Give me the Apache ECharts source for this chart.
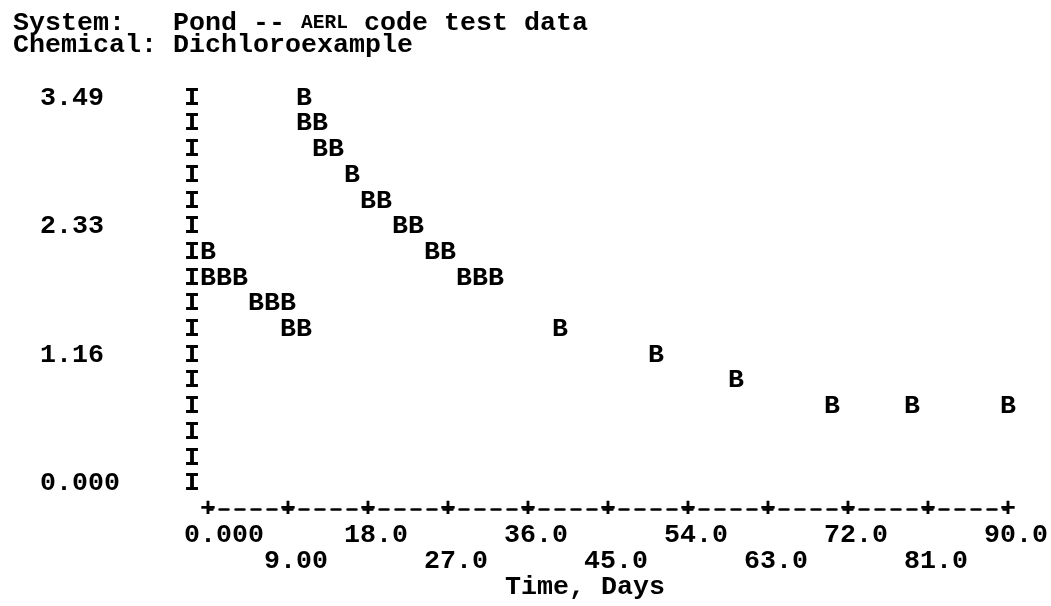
<!DOCTYPE html>
<html>
<head>
<meta charset="utf-8">
<script src="https://cdn.jsdelivr.net/npm/echarts@6/dist/echarts.min.js"></script>
<style>
  html, body { margin: 0; padding: 0; background: #fff; }
  #main { width: 1051px; height: 606px; }
</style>
</head>
<body>
<div id="main"></div>
<script>
// values (one B per printed cell)
var days = [0, 0, 1.8, 3.6, 5.4, 7.2, 9.0, 9.0, 10.8, 10.8, 10.8, 12.6, 12.6, 14.4, 16.2, 18.0, 19.8,
            21.6, 23.4, 25.2, 27.0, 28.8, 30.6, 32.4, 39.6, 50.4, 59.4, 70.2, 79.2, 90];
var conc = [2.094, 1.861, 1.861, 1.861, 1.629, 1.629, 1.629, 1.396, 1.396, 3.49, 3.257, 3.257, 3.025, 3.025,
            2.792, 2.559, 2.559, 2.327, 2.327, 2.094, 2.094, 1.861, 1.861, 1.861, 1.396, 1.163, 0.931,
            0.698, 0.698, 0.698];

var xTickValues = [0, 9, 18, 27, 36, 45, 54, 63, 72, 81, 90];
var xTickLabels = ['0.000', '9.00', '18.0', '27.0', '36.0', '45.0', '54.0', '63.0', '72.0', '81.0', '90.0'];
// one entry per printed row, bottom row first
var yTickLabels = ['0.000', '', '', '', '', '1.16', '', '', '', '', '2.33', '', '', '', '', '3.49'];
var yMax = 3.49;

var FONT = 'Liberation Mono';
var FS = 26.67;
var ROW = 26;

var evenTicks = xTickValues.filter(function (v, i) { return i % 2 === 0; });
var oddTicks = xTickValues.filter(function (v, i) { return i % 2 === 1; });

// number starts one column left of the tick column
function numLabel(v) {
    var s = xTickLabels[xTickValues.indexOf(v)];
    return new Array(s.length - 2).join(' ') + s;
}

var txt = { fontFamily: FONT, fontWeight: 'bold', fontSize: FS, color: '#000' };

function labelAxis(values, margin) {
    return {
        type: 'value',
        position: 'bottom',
        min: 0,
        max: 90,
        offset: ROW,
        axisLine: { show: false, onZero: false },
        axisTick: { show: false },
        splitLine: { show: false },
        axisLabel: Object.assign({
            customValues: values,
            margin: margin,
            verticalAlign: 'middle',
            lineHeight: 20,
            formatter: numLabel
        }, txt)
    };
}

var chart = echarts.init(document.getElementById('main'));
var option = {
    backgroundColor: '#fff',
    animation: false,
    title: {
        text: 'System:   Pond -- {sc|AERL} code test data\nChemical: Dichloroexample',
        left: 8,
        top: 7,
        textStyle: Object.assign({
            lineHeight: 22,
            rich: {
                sc: { fontFamily: FONT, fontWeight: 'bold', fontSize: 19.6, color: '#000', lineHeight: 22 }
            }
        }, txt)
    },
    grid: { left: 208, right: 43, top: 98, bottom: 606 - 98 - 15 * ROW },
    xAxis: [
        {
            type: 'value',
            position: 'bottom',
            min: 0,
            max: 90,
            offset: ROW,
            axisLine: {
                show: true,
                onZero: false,
                lineStyle: { color: '#000', width: 2.5, type: [9, 7], dashOffset: 4.5 }
            },
            axisTick: { show: false },
            splitLine: { show: false },
            axisLabel: Object.assign({
                customValues: xTickValues,
                margin: 0,
                verticalAlign: 'middle',
                lineHeight: 20,
                formatter: function () { return '+'; }
            }, txt),
            name: 'Time, Days',
            nameLocation: 'middle',
            nameGap: 3 * ROW - 13,
            nameTextStyle: Object.assign({ lineHeight: 26, padding: [0, 46, 0, 0] }, txt)
        },
        labelAxis(evenTicks, ROW),
        labelAxis(oddTicks, 2 * ROW)
    ],
    yAxis: [
        {
            type: 'value',
            min: 0,
            max: yMax,
            axisLine: { show: false },
            axisTick: { show: false },
            axisLabel: { show: false },
            splitLine: { show: false }
        },
        {
            // printed rows: value label plus the "I" border column
            type: 'category',
            position: 'left',
            boundaryGap: false,
            data: yTickLabels,
            axisLine: { show: false },
            axisTick: { show: false },
            splitLine: { show: false },
            axisLabel: Object.assign({
                interval: 0,
                margin: 8,
                lineHeight: 20,
                formatter: function (lab) {
                    return lab ? lab + new Array(10 - lab.length).join(' ') + 'I' : 'I';
                }
            }, txt)
        }
    ],
    series: [
        {
            type: 'scatter',
            xAxisIndex: 0,
            yAxisIndex: 0,
            silent: true,
            symbol: 'circle',
            symbolSize: 0,
            itemStyle: { color: '#000', opacity: 1 },
            label: Object.assign({
                show: true,
                position: 'inside',
                formatter: 'B'
            }, txt),
            data: (function () {
                var pts = [];
                for (var i = 0; i < days.length; i++) {
                    pts.push([days[i], conc[i]]);
                }
                return pts;
            })()
        }
    ]
};
chart.setOption(option);
</script>
</body>
</html>
